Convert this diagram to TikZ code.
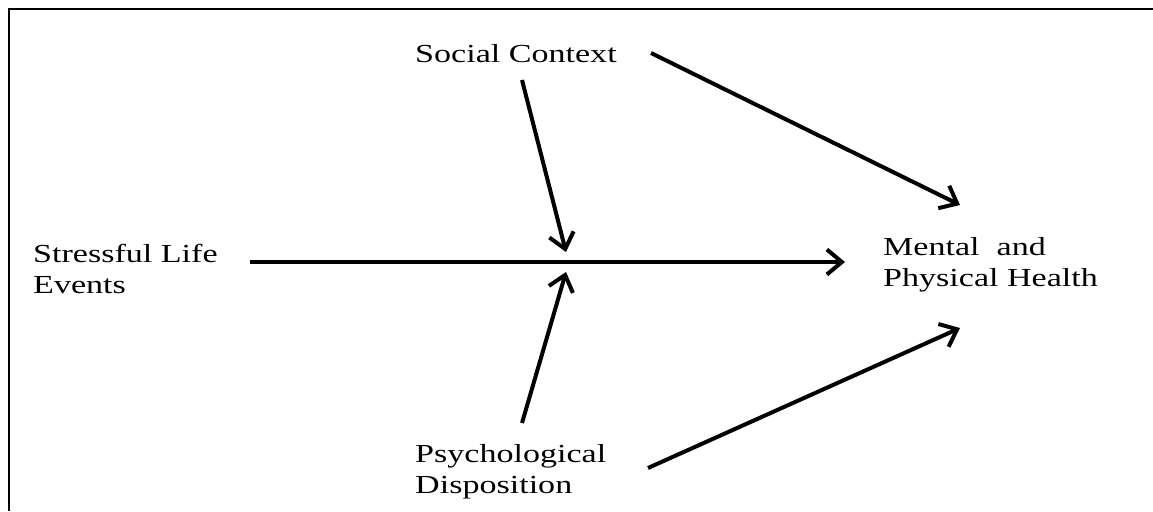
\documentclass[tikz,border=0pt]{standalone}
\usepackage{fontspec}
\setmainfont{Liberation Serif}[FakeStretch=1.31]
\usetikzlibrary{arrows.meta}
\begin{document}
\begin{tikzpicture}[x=1pt,y=-1pt,
  lbl/.style={anchor=north west,inner sep=0pt,align=left,
    font=\fontsize{26}{31}\selectfont},
  conn/.style={line width=4pt,-{Straight Barb[length=15pt,width=25pt]}},
  frame/.style={line width=2.8pt}]
\useasboundingbox (0,0) rectangle (1153,511);
\draw[frame] (9,511) -- (9,9) -- (1153,9);
% labels
\node[lbl] (sle) at (33,244) {Stressful Life\\Events};
\node[lbl] (sc) at (415,44) {Social Context};
\node[lbl] (pd) at (415,444) {Psychological\\Disposition};
\node[lbl] (mph) at (883,237) {Mental\ \ and\\Physical Health};
% connector ends
\coordinate (sleout) at (250,262);
\coordinate (mphin) at (845,262);
\coordinate (scout1) at (651,53);
\coordinate (scout2) at (522,80);
\coordinate (pdout1) at (648,468);
\coordinate (pdout2) at (522,423);
\coordinate (mid1) at (566,252);
\coordinate (mid2) at (566,272);
\coordinate (mphtop) at (960,205);
\coordinate (mphbot) at (960,328);
% connectors
\draw[conn] (sleout) -- (mphin);
\draw[conn] (scout2) -- (mid1);
\draw[conn] (pdout2) -- (mid2);
\draw[conn] (scout1) -- (mphtop);
\draw[conn] (pdout1) -- (mphbot);
\end{tikzpicture}
\end{document}
